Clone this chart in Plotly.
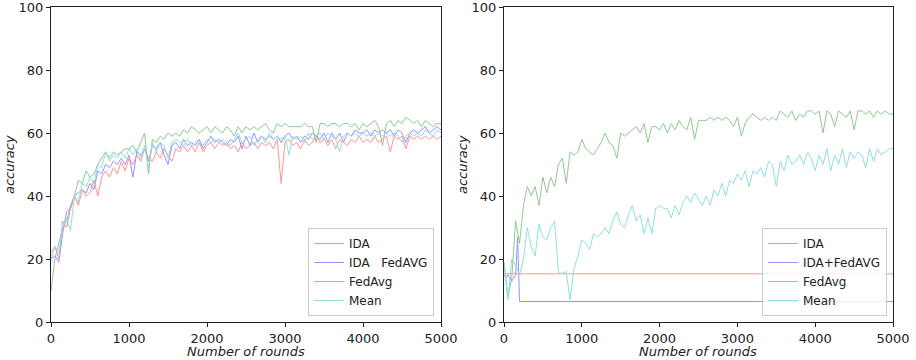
import plotly.graph_objects as go

# ---------------- data ----------------
rounds_step = 50
rounds_max = 5000

left_ida = [10, 20, 25, 30, 32, 37, 40, 45, 44, 48, 46, 47, 50, 52, 54, 52, 54, 53, 54, 55,
            55, 56, 54, 57, 60, 47, 58, 57, 59, 58, 60, 59, 60, 59, 61, 60, 62, 61, 60, 61,
            62, 60, 62, 61, 60, 62, 61, 59, 62, 60, 62, 61, 62, 61, 62, 63, 61, 60, 63, 62,
            63, 62, 62, 62, 62, 63, 62, 62, 57, 63, 63, 62, 63, 63, 62, 63, 63, 62, 63, 61,
            63, 62, 63, 64, 62, 56, 63, 64, 62, 64, 63, 65, 64, 63, 64, 62, 64, 63, 62, 63, 63]
left_ida_fedavg = [20, 21, 19, 28, 35, 36, 40, 41, 42, 41, 44, 42, 48, 47, 50, 49, 51, 50, 52, 50,
                   53, 46, 54, 53, 55, 51, 56, 55, 57, 53, 50, 56, 57, 55, 58, 56, 57, 56, 58, 55,
                   57, 59, 57, 58, 57, 56, 58, 57, 59, 55, 59, 56, 60, 57, 59, 58, 59, 58, 59, 57,
                   59, 60, 58, 59, 57, 59, 58, 60, 59, 58, 60, 57, 60, 58, 60, 57, 60, 59, 61, 60,
                   60, 61, 59, 61, 60, 61, 60, 61, 59, 61, 60, 57, 60, 61, 60, 61, 62, 60, 61, 62, 61]
left_fedavg = [22, 24, 20, 32, 30, 36, 40, 37, 42, 40, 41, 45, 40, 46, 48, 46, 49, 47, 51, 48,
               52, 50, 53, 51, 55, 52, 51, 54, 52, 55, 53, 51, 55, 54, 56, 54, 56, 54, 57, 54,
               56, 57, 55, 57, 56, 57, 55, 56, 54, 57, 55, 56, 57, 55, 57, 56, 57, 55, 58, 44,
               57, 58, 56, 57, 55, 58, 56, 57, 59, 57, 58, 56, 58, 55, 58, 57, 56, 58, 57, 59,
               57, 58, 57, 59, 57, 58, 59, 54, 59, 58, 59, 55, 59, 58, 59, 58, 59, 58, 59, 58, 59]
left_mean = [20, 24, 22, 30, 33, 29, 40, 38, 44, 43, 46, 44, 50, 49, 54, 51, 53, 52, 54, 52,
             55, 53, 55, 52, 56, 49, 57, 54, 57, 56, 52, 57, 58, 57, 56, 58, 56, 57, 58, 56,
             58, 57, 58, 57, 58, 57, 56, 58, 60, 57, 58, 59, 56, 58, 59, 57, 60, 58, 59, 58,
             59, 53, 59, 58, 59, 57, 60, 58, 59, 60, 58, 60, 59, 58, 54, 59, 60, 59, 60, 59,
             60, 59, 60, 59, 60, 59, 60, 59, 60, 59, 57, 59, 60, 59, 60, 59, 61, 60, 59, 61, 60]

right_ida = [19, 8, 14, 32, 25, 37, 43, 40, 43, 37, 46, 41, 46, 43, 50, 52, 44, 54, 53, 54,
             58, 55, 54, 53, 55, 57, 60, 57, 56, 52, 60, 59, 60, 61, 62, 60, 63, 57, 62, 62,
             61, 63, 60, 63, 61, 64, 62, 61, 65, 58, 64, 64, 64, 65, 64, 65, 64, 65, 64, 62,
             65, 59, 63, 65, 66, 65, 64, 65, 64, 65, 64, 67, 66, 65, 67, 64, 66, 65, 67, 67,
             66, 67, 60, 67, 66, 62, 67, 66, 65, 67, 61, 67, 67, 66, 67, 65, 67, 66, 67, 66, 66]
right_ida_fedavg_x = [0, 25, 50, 75, 100, 125, 150, 175, 200, 5000]
right_ida_fedavg = [15, 14, 15, 14, 13, 14, 15, 27, 6.5, 6.5]
right_fedavg_x = [0, 5000]
right_fedavg = [15.3, 15.3]
right_mean = [19, 7, 20, 18, 15, 20, 30, 24, 21, 31, 27, 26, 30, 32, 15.5, 15.5, 16, 7, 17, 21,
              26, 25, 23, 28, 27, 28, 30, 28, 32, 35, 31, 30, 34, 37, 32, 34, 28, 33, 28, 36,
              37, 36, 36, 33, 37, 34, 38, 40, 38, 41, 39, 37, 40, 37, 42, 40, 44, 40, 45, 44,
              47, 45, 48, 43, 48, 47, 49, 46, 51, 50, 43, 51, 48, 53, 50, 51, 53, 50, 54, 52,
              48, 53, 50, 55, 48, 53, 50, 55, 49, 54, 52, 54, 53, 49, 55, 51, 55, 53, 54, 55, 55]

series_names_left = ["IDA", "IDA   FedAVG", "FedAvg", "Mean"]
series_names_right = ["IDA", "IDA+FedAVG", "FedAvg", "Mean"]
x_ticks = [0, 1000, 2000, 3000, 4000, 5000]
y_ticks = [0, 20, 40, 60, 80, 100]

# ---------------- styles ----------------
colors = ["#8fc98f", "#9494ff", "#ff9494", "#8fe0e0"]
FONT = "DejaVu Sans"

W, H = 916, 360
def fx(px):
    return px / W
def fy(py):
    return 1 - py / H

xs = list(range(0, rounds_max + 1, rounds_step))

fig = go.Figure()
left_data = [(xs, left_ida), (xs, left_ida_fedavg), (xs, left_fedavg), (xs, left_mean)]
right_data = [(xs, right_ida), (right_ida_fedavg_x, right_ida_fedavg), (right_fedavg_x, right_fedavg), (xs, right_mean)]

for i, (x, y) in enumerate(left_data):
    fig.add_trace(go.Scatter(x=x, y=y, mode="lines", name=series_names_left[i],
                             line=dict(color=colors[i], width=1), xaxis="x", yaxis="y",
                             legend="legend"))
for i, (x, y) in enumerate(right_data):
    fig.add_trace(go.Scatter(x=x, y=y, mode="lines", name=series_names_right[i],
                             line=dict(color=colors[i], width=1), xaxis="x2", yaxis="y2",
                             legend="legend2"))

ydom = [fy(322), fy(7)]
axis_common = dict(showline=True, mirror=True, linecolor="#222", linewidth=1.2,
                   ticks="outside", ticklen=4, tickcolor="#222", showgrid=False, zeroline=False,
                   automargin=False, ticklabeloverflow="allow",
                   tickfont=dict(family=FONT, size=13, color="#222"))

legend_common = dict(xanchor="right", yanchor="bottom",
                     bgcolor="rgba(255,255,255,0.85)", bordercolor="#ccc", borderwidth=1,
                     font=dict(family=FONT, size=12, color="#222"), tracegroupgap=0,
                     itemwidth=30)

fig.update_layout(
    width=W, height=H, margin=dict(l=0, r=0, t=0, b=0),
    paper_bgcolor="white", plot_bgcolor="white",
    font=dict(family=FONT, color="#222"),
    xaxis=dict(domain=[fx(51), fx(441)], range=[0, 5000], tickvals=x_ticks, anchor="y", **axis_common),
    yaxis=dict(domain=ydom, range=[0, 100], tickvals=y_ticks, anchor="x", **axis_common),
    xaxis2=dict(domain=[fx(504), fx(893)], range=[0, 5000], tickvals=x_ticks, anchor="y2", **axis_common),
    yaxis2=dict(domain=ydom, range=[0, 100], tickvals=y_ticks, anchor="x2", **axis_common),
    legend=dict(x=fx(434), y=fy(316), **legend_common),
    legend2=dict(x=fx(887), y=fy(316), **legend_common),
    annotations=[
        dict(text="<i>accuracy</i>", xref="paper", yref="paper", x=fx(10), y=fy(165), textangle=-90,
             showarrow=False, font=dict(family=FONT, size=13, color="#222"), xanchor="center", yanchor="middle"),
        dict(text="<i>accuracy</i>", xref="paper", yref="paper", x=fx(463), y=fy(165), textangle=-90,
             showarrow=False, font=dict(family=FONT, size=13, color="#222"), xanchor="center", yanchor="middle"),
        dict(text="<i>Number of rounds</i>", xref="paper", yref="paper", x=fx(246), y=fy(351),
             showarrow=False, font=dict(family=FONT, size=13, color="#222"), xanchor="center", yanchor="middle"),
        dict(text="<i>Number of rounds</i>", xref="paper", yref="paper", x=fx(698), y=fy(351),
             showarrow=False, font=dict(family=FONT, size=13, color="#222"), xanchor="center", yanchor="middle"),
    ],
)

fig.write_html("out.html", config={"displayModeBar": False},
               post_script="document.body.style.margin='0';document.body.style.overflow='hidden';")
